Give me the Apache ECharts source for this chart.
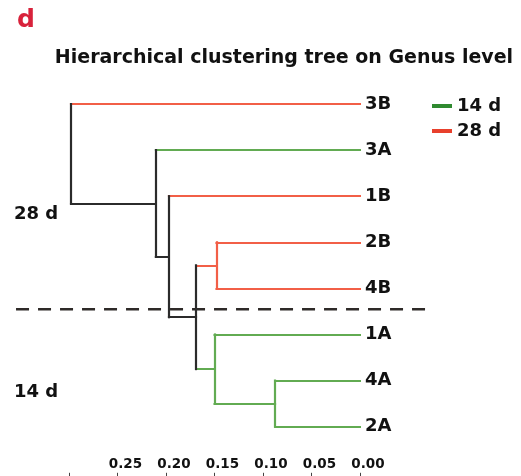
<!DOCTYPE html>
<html>
<head>
<meta charset="utf-8">
<script src="https://cdn.jsdelivr.net/npm/echarts@6/dist/echarts.min.js"></script>
<style>
  html, body { margin: 0; padding: 0; background: #fff; }
  #chart { width: 521px; height: 476px; }
</style>
</head>
<body>
<div id="chart"></div>
<script>
// Leaves, top to bottom, and the sampling time each belongs to
const leaves = ['3B', '3A', '1B', '2B', '4B', '1A', '4A', '2A'];
const leafGroup = ['28 d', '14 d', '28 d', '28 d', '28 d', '14 d', '14 d', '14 d'];

// Agglomeration steps: 'Ck' refers to the cluster formed at step k
const mergeLeft = ['4A', '1A', '2B', 'C2', '1B', '3A', '3B'];
const mergeRight = ['2A', 'C0', '4B', 'C1', 'C3', 'C4', 'C5'];
const mergeHeight = [0.0875, 0.150, 0.148, 0.169, 0.197, 0.2105, 0.298];

// Distance axis
const tickLabels = ['0.00', '0.05', '0.10', '0.15', '0.20', '0.25'];
const axisMax = 0.30;
const tickStep = 0.05;

// Group separator and group captions
const groupNames = ['14 d', '28 d'];
const separatorY = 4.45;
const separatorX = [0.3546, -0.0701];

const groupColor = { '14 d': '#62ab52', '28 d': '#f25f47' };
const legendColor = { '14 d': '#2f8a30', '28 d': '#e8402c' };
const mixedColor = '#2b2b2b';
const FONT = '"DejaVu Sans", "Liberation Sans", Arial, sans-serif';

// Resolve every node: position on the leaf axis, height, and group (null if mixed)
const nodes = {};
leaves.forEach((name, i) => { nodes[name] = { y: i, h: 0, group: leafGroup[i] }; });
mergeLeft.forEach((a, k) => {
  const b = mergeRight[k];
  const na = nodes[a], nb = nodes[b];
  nodes['C' + k] = {
    y: (na.y + nb.y) / 2,
    h: mergeHeight[k],
    group: na.group && na.group === nb.group ? na.group : null,
    kids: [a, b]
  };
});

const colorOf = n => (n.group ? groupColor[n.group] : mixedColor);

// Branch segments: horizontals from each child up to its parent's height, then the parent's vertical
const horizontals = [];
const verticals = [];
mergeLeft.forEach((_, k) => {
  const parent = nodes['C' + k];
  parent.kids.forEach(key => {
    const c = nodes[key];
    horizontals.push({
      coords: [[parent.h, c.y], [c.h, c.y]],
      lineStyle: { color: colorOf(c) }
    });
  });
  const ya = nodes[parent.kids[0]].y, yb = nodes[parent.kids[1]].y;
  verticals.push({
    coords: [[parent.h, ya], [parent.h, yb]],
    lineStyle: { color: colorOf(parent) }
  });
});

const chart = echarts.init(document.getElementById('chart'), null, { renderer: 'canvas' });

chart.setOption({
  animation: false,
  backgroundColor: '#ffffff',
  grid: { left: 69, right: 161, top: 104, bottom: 3.2 },
  xAxis: {
    type: 'value',
    inverse: true,
    min: 0,
    max: axisMax,
    interval: tickStep,
    axisLine: { show: false, onZero: false },
    splitLine: { show: false },
    axisTick: { show: true, length: 6, lineStyle: { color: '#444', width: 1 } },
    axisLabel: {
      inside: true,
      margin: 1,
      padding: [0, 0, 0, 16],
      fontFamily: FONT,
      fontWeight: 'bold',
      fontSize: 13.5,
      color: '#111',
      formatter: v => tickLabels[Math.round(v / tickStep)] || ''
    }
  },
  yAxis: {
    type: 'value',
    inverse: true,
    min: 0,
    max: leaves.length,
    interval: 1,
    position: 'right',
    axisLine: { show: false, onZero: false },
    axisTick: { show: false },
    splitLine: { show: false },
    axisLabel: {
      margin: 5,
      fontFamily: FONT,
      fontWeight: 'bold',
      fontSize: 18,
      color: '#111',
      formatter: v => leaves[v] || ''
    }
  },
  legend: {
    orient: 'vertical',
    left: 432,
    top: 97,
    padding: 0,
    itemWidth: 20,
    itemHeight: 4,
    itemGap: 7,
    icon: 'rect',
    data: groupNames,
    textStyle: { fontFamily: FONT, fontWeight: 'bold', fontSize: 18, color: '#111' }
  },
  graphic: [
    { id: 'panel', type: 'text', left: 17, top: 8,
      style: { text: 'd', font: 'bold 25px ' + FONT, fill: '#d8223b' } },
    { id: 'title', type: 'text', x: 284, y: 58,
      style: { text: 'Hierarchical clustering tree on Genus level', font: 'bold 19px ' + FONT,
               fill: '#111', textAlign: 'center', textVerticalAlign: 'middle' } },
    { id: 'g28', type: 'text', x: 14, y: 214,
      style: { text: '28 d', font: 'bold 18px ' + FONT, fill: '#111', textVerticalAlign: 'middle' } },
    { id: 'g14', type: 'text', x: 14, y: 392,
      style: { text: '14 d', font: 'bold 18px ' + FONT, fill: '#111', textVerticalAlign: 'middle' } }
  ],
  series: [
    { name: '14 d', type: 'line', data: [], color: legendColor['14 d'] },
    { name: '28 d', type: 'line', data: [], color: legendColor['28 d'] },
    {
      type: 'lines',
      coordinateSystem: 'cartesian2d',
      silent: true,
      lineStyle: { width: 2, opacity: 1, cap: 'square' },
      data: horizontals
    },
    {
      type: 'lines',
      coordinateSystem: 'cartesian2d',
      silent: true,
      lineStyle: { width: 2.2, opacity: 1, cap: 'square' },
      data: verticals
    }
  ]
});

// Dashed separator between the two sampling times; it runs past the plot on both sides
const sepPx = separatorX.map(x => chart.convertToPixel({ xAxisIndex: 0 }, x));
const sepPy = chart.convertToPixel({ yAxisIndex: 0 }, separatorY);
chart.setOption({
  graphic: [
    { id: 'separator', type: 'line', silent: true,
      shape: { x1: sepPx[0], y1: sepPy, x2: sepPx[1], y2: sepPy },
      style: { stroke: '#2e2a28', lineWidth: 2.5, lineDash: [13, 9] } }
  ]
});
</script>
</body>
</html>
